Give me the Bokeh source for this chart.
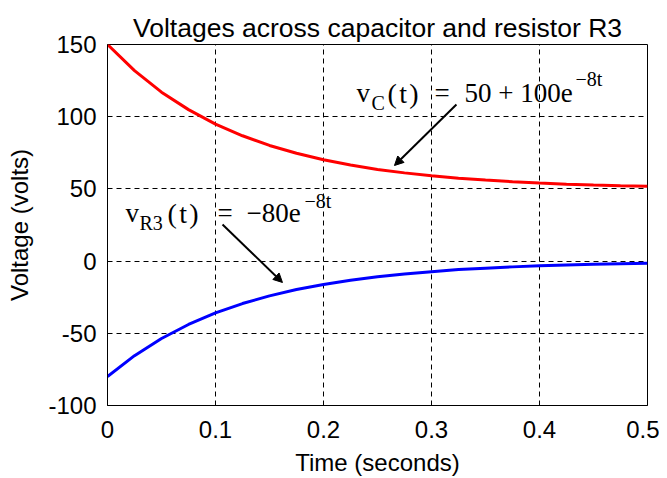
from bokeh.plotting import figure
from bokeh.models import Label, Arrow, NormalHead, FixedTicker, ColumnDataSource
from bokeh.embed import file_html
from bokeh.resources import INLINE

# ---- data ----
t = [0, 0.025, 0.05, 0.075, 0.1, 0.125, 0.15, 0.175, 0.2, 0.225, 0.25,
     0.275, 0.3, 0.325, 0.35, 0.375, 0.4, 0.425, 0.45, 0.475, 0.5]
v_c = [150, 131.9, 117.0, 104.9, 94.9, 86.8, 80.1, 74.7, 70.2, 66.5, 63.5,
       61.1, 59.1, 57.4, 56.1, 55.0, 54.1, 53.3, 52.7, 52.2, 51.8]
v_r3 = [-80, -65.5, -53.6, -43.9, -35.9, -29.4, -24.1, -19.7, -16.2, -13.2, -10.8,
        -8.9, -7.3, -5.9, -4.9, -4.0, -3.3, -2.7, -2.2, -1.8, -1.5]

x_ticks = [0, 0.1, 0.2, 0.3, 0.4, 0.5]
x_tick_labels = ["0", "0.1", "0.2", "0.3", "0.4", "0.5"]
y_ticks = [-100, -50, 0, 50, 100, 150]
y_tick_labels = ["-100", "-50", "0", "50", "100", "150"]

title = "Voltages across capacitor and resistor R3"
x_label = "Time (seconds)"
y_label = "Voltage (volts)"

SANS = "Liberation Sans"
SERIF = "Liberation Serif"

p = figure(frame_width=540, frame_height=361,
           x_range=(0, 0.5), y_range=(-100, 150),
           output_backend="svg", toolbar_location=None,
           min_border_left=107, min_border_right=12,
           min_border_top=44, min_border_bottom=60,
           background_fill_color="white", border_fill_color="white")

p.title.text = title
p.title.align = "center"
p.title.vertical_align = "top"
p.title.text_font = SANS
p.title.text_font_size = "26.5px"
p.title.text_font_style = "normal"
p.title.text_color = "black"
p.title.text_line_height = 0.75
p.title.standoff = 0

p.outline_line_color = "black"
p.outline_line_width = 1
p.outline_line_alpha = 1

for ax in (p.xaxis, p.yaxis):
    ax.axis_line_color = "black"
    ax.major_tick_in = 0
    ax.major_tick_out = 0
    ax.minor_tick_in = 0
    ax.minor_tick_out = 0
    ax.major_label_text_font = SANS
    ax.major_label_text_font_size = "24px"
    ax.major_label_text_color = "black"
    ax.axis_label_text_font = SANS
    ax.axis_label_text_font_size = "24px"
    ax.axis_label_text_font_style = "normal"
    ax.axis_label_text_color = "black"

p.xaxis.ticker = FixedTicker(ticks=x_ticks)
p.yaxis.ticker = FixedTicker(ticks=y_ticks)
p.xaxis.major_label_overrides = dict(zip(x_ticks, x_tick_labels))
p.yaxis.major_label_overrides = dict(zip(y_ticks, y_tick_labels))
p.xaxis.axis_label = x_label
p.yaxis.axis_label = y_label
p.xaxis.major_label_standoff = 15
p.yaxis.major_label_standoff = 11
p.xaxis.axis_label_standoff = 8
p.yaxis.axis_label_standoff = 12

for g in (p.xgrid, p.ygrid):
    g.grid_line_color = "black"
    g.grid_line_dash = "5 4"
    g.grid_line_width = 1
    g.grid_line_alpha = 1

src = ColumnDataSource(dict(t=t, v_c=v_c, v_r3=v_r3))
p.line("t", "v_c", source=src, line_color="#ff0000", line_width=3)
p.line("t", "v_r3", source=src, line_color="#0000ff", line_width=3)


def txt(x, y, s, size, font=SERIF):
    p.add_layout(Label(x=x, y=y, text=s, text_font=font, text_font_size=size,
                       text_align="left", text_baseline="alphabetic",
                       text_color="black"))


# v_C annotation
txt(0.2306, 116.1, "v", "27px")
txt(0.2444, 109.5, "C", "20px")
txt(0.2593, 116.1, "(\u200at\u200a)", "28px")
txt(0.3028, 116.1, "=", "27px")
txt(0.3306, 116.1, "50 + 100e", "27px")
txt(0.4333, 125.8, "\u22128t", "20px")

# v_R3 annotation
txt(0.0167, 33.0, "v", "27px")
txt(0.0296, 26.7, "R3", "20px")
txt(0.0556, 33.0, "(\u200at\u200a)", "28px")
txt(0.1019, 33.0, "=", "27px")
txt(0.1287, 33.0, "\u221280e", "27px")
txt(0.1824, 41.3, "\u22128t", "20px")

head = dict(size=9, fill_color="black", line_color="black")
p.add_layout(Arrow(end=NormalHead(**head), x_start=0.3231, y_start=108.4,
                   x_end=0.2657, y_end=66.2, line_width=2, line_color="black"))
p.add_layout(Arrow(end=NormalHead(**head), x_start=0.1065, y_start=25.3,
                   x_end=0.162, y_end=-14.8, line_width=2, line_color="black"))

open("out.html", "w").write(file_html(p, INLINE))
